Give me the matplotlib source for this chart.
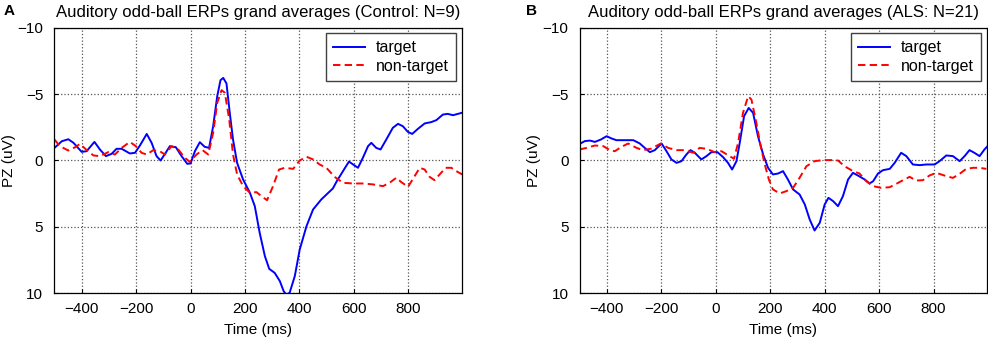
import matplotlib.pyplot as plt
import numpy as np

plt.rcParams['font.family'] = ['Liberation Sans', 'DejaVu Sans']
plt.rcParams['font.size'] = 11

# Control group (panel A)
t_ctrl_target = [-500, -473, -449, -430, -400, -382, -353, -333, -311, -290, -272, -253, -223, -204, -186,
                 -161, -143, -125, -110, -94, -76, -54, -33, -12, 0, 16, 34, 52, 68, 83, 98, 110, 120, 132,
                 144, 156, 171, 193, 218, 236, 254, 273, 289, 309, 328, 342, 352, 364, 383, 401, 426, 450,
                 480, 505, 523, 540, 548, 566, 582, 597, 615, 633, 652, 664, 682, 698, 719, 743, 762, 780,
                 798, 814, 835, 860, 884, 903, 927, 945, 964, 982, 996]
v_ctrl_target = [-0.95, -1.45, -1.6, -1.33, -0.65, -0.7, -1.4, -0.83, -0.33, -0.5, -0.88, -0.88, -0.53, -0.58,
                 -1.13, -2.0, -1.33, -0.33, 0.0, -0.5, -1.08, -1.0, -0.33, 0.25, 0.22, -0.7, -1.38, -1.03,
                 -0.95, -2.58, -4.84, -6.05, -6.22, -5.8, -3.59, -1.58, 0.18, 1.43, 2.43, 3.44, 5.45, 7.2,
                 8.16, 8.46, 9.08, 9.84, 10.1, 9.96, 8.7, 6.7, 4.94, 3.69, 2.94, 2.45, 2.1, 1.45, 1.2, 0.6,
                 0.08, 0.3, 0.55, -0.2, -1.08, -1.33, -0.95, -0.83, -1.58, -2.46, -2.76, -2.58, -2.16, -2.0,
                 -2.38, -2.79, -2.89, -3.04, -3.46, -3.51, -3.41, -3.51, -3.59]

t_ctrl_nontarget = [-500, -480, -449, -424, -406, -384, -357, -333, -302, -278, -253, -223, -201, -180, -161,
                    -137, -113, -94, -70, -45, -21, -3, 22, 44, 65, 83, 98, 114, 126, 142, 156, 171, 193,
                    218, 242, 260, 281, 303, 325, 346, 377, 401, 426, 450, 474, 499, 529, 560, 597, 633,
                    670, 707, 731, 756, 774, 799, 823, 842, 860, 878, 896, 915, 937, 958, 976, 998]
v_ctrl_nontarget = [-1.58, -1.08, -0.75, -1.0, -1.25, -0.83, -0.38, -0.33, -0.63, -0.45, -0.95, -1.4, -1.08,
                    -0.58, -0.45, -0.78, -0.7, -0.45, -1.08, -0.83, -0.2, 0.1, -0.45, -0.78, -0.45, -2.08,
                    -4.34, -5.3, -5.1, -3.09, -0.45, 1.05, 1.93, 2.43, 2.38, 2.68, 2.99, 1.93, 0.68, 0.55,
                    0.63, 0.0, -0.28, -0.08, 0.3, 0.55, 1.23, 1.68, 1.73, 1.73, 1.8, 1.93, 1.68, 1.3, 1.63,
                    1.98, 1.18, 0.55, 0.68, 1.23, 1.48, 1.05, 0.55, 0.55, 0.8, 1.05]

# ALS group (panel B)
t_als_target = [-500, -481, -462, -444, -422, -401, -383, -365, -334, -303, -279, -261, -242, -224, -199,
                -181, -163, -144, -126, -108, -93, -77, -53, -34, -16, 6, 27, 45, 60, 76, 88, 104, 121, 137,
                155, 174, 192, 210, 229, 247, 265, 284, 308, 327, 345, 363, 382, 400, 414, 431, 449, 467,
                486, 504, 522, 547, 565, 578, 596, 614, 639, 657, 681, 700, 724, 749, 773, 804, 822, 847,
                871, 896, 914, 932, 950, 969, 987, 996]
v_als_target = [-1.25, -1.46, -1.5, -1.4, -1.58, -1.83, -1.66, -1.53, -1.53, -1.53, -1.28, -0.95, -0.63,
                -0.78, -1.28, -0.7, -0.08, 0.18, 0.05, -0.45, -0.78, -0.58, -0.08, -0.33, -0.63, -0.63,
                -0.25, 0.18, 0.68, 0.05, -1.33, -3.34, -3.96, -3.59, -1.83, -0.45, 0.55, 1.05, 0.98, 0.8,
                1.43, 2.18, 2.56, 3.31, 4.44, 5.27, 4.69, 3.31, 2.81, 3.06, 3.44, 2.69, 1.43, 0.93, 1.13,
                1.43, 1.73, 1.56, 0.98, 0.73, 0.63, 0.18, -0.58, -0.33, 0.3, 0.35, 0.3, 0.3, 0.05, -0.38,
                -0.33, 0.05, -0.33, -0.78, -0.58, -0.33, -0.83, -1.03]

t_als_nontarget = [-500, -475, -444, -413, -389, -371, -346, -322, -291, -267, -236, -202, -175, -144, -114,
                   -83, -59, -34, -4, 21, 45, 67, 82, 100, 119, 131, 149, 165, 180, 195, 210, 235, 259, 284,
                   308, 333, 363, 394, 424, 449, 473, 504, 528, 553, 578, 608, 639, 663, 688, 712, 736, 761,
                   785, 810, 828, 847, 871, 896, 920, 945, 969, 994]
v_als_nontarget = [-0.83, -0.95, -1.13, -1.08, -0.78, -0.7, -1.03, -1.28, -0.95, -0.78, -0.9, -1.28, -0.95,
                   -0.78, -0.78, -0.58, -0.95, -0.88, -0.63, -0.7, -0.4, -0.13, -1.33, -3.59, -4.84, -4.59,
                   -2.84, -1.08, 0.3, 1.43, 2.18, 2.48, 2.31, 2.06, 1.3, 0.43, 0.05, -0.03, -0.03, 0.0, 0.43,
                   0.8, 0.98, 1.56, 1.93, 2.06, 2.01, 1.76, 1.48, 1.23, 1.51, 1.48, 1.13, 0.93, 1.05, 1.18,
                   1.31, 1.0, 0.63, 0.55, 0.55, 0.63]

titles = ["Auditory odd-ball ERPs grand averages (Control: N=9)",
          "Auditory odd-ball ERPs grand averages (ALS: N=21)"]
panel_letters = ["A", "B"]
x_ticks = [-400, -200, 0, 200, 400, 600, 800]
y_ticks = [-10, -5, 0, 5, 10]

fig = plt.figure(figsize=(9.88, 3.39), dpi=100)
ax0 = fig.add_axes([0.0551, 0.1348, 0.4122, 0.7835])
ax1 = fig.add_axes([0.5867, 0.1348, 0.4122, 0.7835])

data = [(t_ctrl_target, v_ctrl_target, t_ctrl_nontarget, v_ctrl_nontarget),
        (t_als_target, v_als_target, t_als_nontarget, v_als_nontarget)]

for ax, (tt, vt, tn, vn), title in zip([ax0, ax1], data, titles):
    ax.plot(tt, vt, color="#0000ff", lw=1.4, label="target")
    ax.plot(tn, vn, color="#ff0000", lw=1.4, ls=(0, (3.8, 2.2)), label="non-target")
    ax.set_xlim(-500, 996)
    ax.set_ylim(10, -10)
    ax.set_xticks(x_ticks)
    ax.set_yticks(y_ticks)
    ax.grid(True, ls=":", color="#555555", lw=0.9)
    ax.tick_params(axis="x", direction="in", length=3, width=0.8, pad=6.5)
    ax.tick_params(axis="y", direction="in", length=3, width=0.8, pad=8)
    for s in ax.spines.values():
        s.set_linewidth(0.9)
    ax.set_xlabel("Time (ms)", labelpad=5)
    ax.set_ylabel("PZ (uV)", labelpad=1)
    ax.set_title(title, pad=8, fontsize=12)
    leg = ax.legend(loc="upper right", fancybox=False, edgecolor="#404040", framealpha=1,
                    prop={"size": 11.5}, borderpad=0.45,
                    handlelength=2.0, handletextpad=0.7, borderaxespad=0.35, labelspacing=0.2)
    leg.get_frame().set_linewidth(1.0)

fig.text(0.004, 0.955, panel_letters[0], fontweight="bold", fontsize=11)
fig.text(0.532, 0.955, panel_letters[1], fontweight="bold", fontsize=11)

fig.savefig("out.png", dpi=100)
